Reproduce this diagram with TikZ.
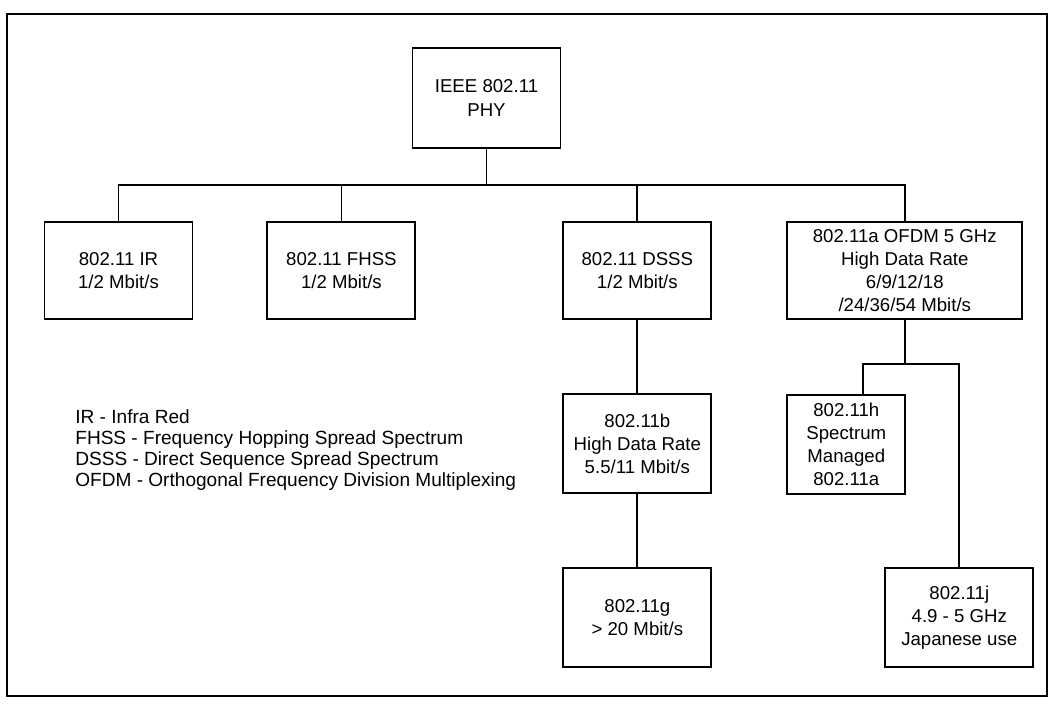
\documentclass[tikz,border=0pt]{standalone}
\usepackage{fontspec}
\setmainfont{Liberation Sans}
\usetikzlibrary{positioning}

\begin{document}
\begin{tikzpicture}[font=\fontsize{10.6}{13.1}\selectfont,
  bx/.style={draw,line width=1.1pt,align=center,inner sep=0pt,minimum width=2.96cm,minimum height=1.94cm},
  ln/.style={line width=1pt}]
  \useasboundingbox (0,0) rectangle (21.04,-14.12);
  \draw[ln] (0.14,-0.28) rectangle (20.94,-13.92);
  \node[bx,minimum height=2cm] (phy) at (9.73,-1.96) {IEEE 802.11\\PHY};
  \node[bx] (ir) at (2.37,-5.41) {802.11 IR\\1/2 Mbit/s};
  \node[bx,right=1.46cm of ir] (fh) {802.11 FHSS\\1/2 Mbit/s};
  \node[bx,right=2.92cm of fh] (ds) {802.11 DSSS\\1/2 Mbit/s};
  \node[bx,minimum width=4.7cm,right=1.48cm of ds] (of) {802.11a OFDM 5 GHz\\High Data Rate\\6/9/12/18\\/24/36/54 Mbit/s};
  \node[bx,minimum height=1.98cm,below=1.46cm of ds] (rb) {802.11b\\High Data Rate\\5.5/11 Mbit/s};
  \node[bx,minimum height=1.98cm,below=1.46cm of rb] (rg) {802.11g\\> 20 Mbit/s};
  \node[bx,minimum width=2.36cm,minimum height=1.98cm,below right=1.48cm and 0cm of of.south west] (rh) {802.11h\\Spectrum\\Managed\\802.11a};
  \node[bx,minimum height=1.98cm,right=3.44cm of rg] (rj) {802.11j\\4.9 - 5 GHz\\Japanese use};
  \node[align=left,anchor=north west,inner sep=0pt,font=\fontsize{10.85}{11.95}\selectfont] (lg) at (1.5,-8.18)
    {IR - Infra Red\\FHSS - Frequency Hopping Spread Spectrum\\DSSS - Direct Sequence Spread Spectrum\\OFDM - Orthogonal Frequency Division Multiplexing};
  % tree lines
  \coordinate[below=0.72cm of phy.south] (bus);
  \draw[ln] (phy) -- (bus);
  \draw[ln] (ir) |- (bus) -| (of);
  \foreach \a in {fh,ds}{\draw[ln] (\a) -- (\a |- bus);}
  \foreach \a/\bb in {ds/rb,rb/rg}{\draw[ln] (\a) -- (\bb);}
  \coordinate[below=0.88cm of of.south] (hj);
  \draw[ln] (of) -- (hj);
  \draw[ln] ([xshift=0.34cm]rh.north) |- (hj) -| (rj);
\end{tikzpicture}
\end{document}
